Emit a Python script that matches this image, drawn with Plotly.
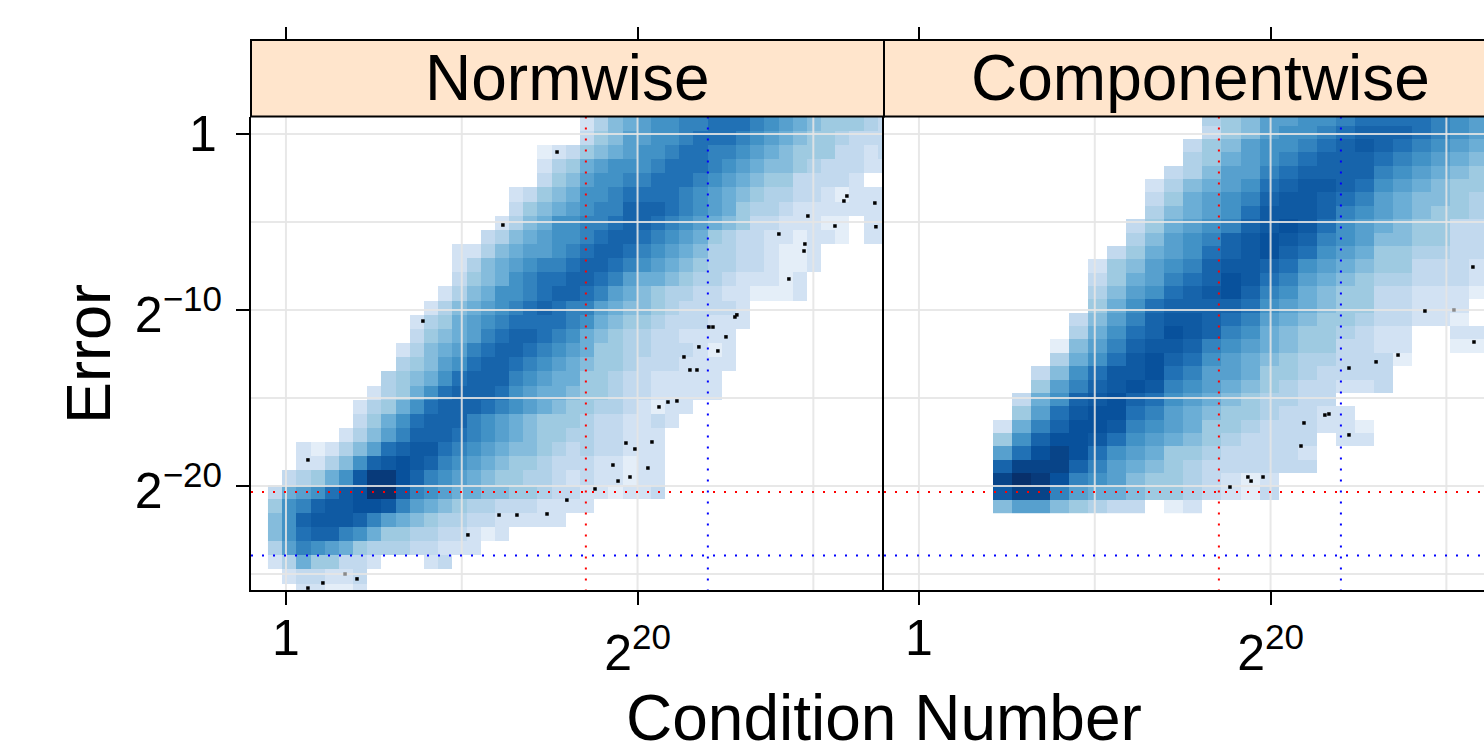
import plotly.graph_objects as go

W, H = 1484, 745
PANEL_TITLES = ["Normwise", "Componentwise"]
X_TICKS = [0, 20]
X_TICK_TEXT = ["", "2<sup>20</sup>"]
Y_TICKS = [0, -10, -20]
Y_TICK_TEXT = ["", "2<sup>\u221210</sup>", "2<sup>\u221220</sup>"]
UNIT_LABEL = "1"
X_GRID = [0, 10, 20, 30]
Y_GRID = [0, -5, -10, -15, -20, -25]
RED_X, BLUE_X = 17.06, 24.0
RED_Y, BLUE_Y = -20.34, -23.95

# shade levels: '.' empty, then 1..9, a..h from light to dark
SHADES = ["#E4EEF8", "#D2E2F3", "#C2D9EE", "#B0D1E8", "#9ECAE1", "#85BCDC", "#6BAED6", "#57A0CE", "#4292C6",
          "#3383BE", "#2171B5", "#1764AB", "#0F5AA3", "#08519C", "#084488", "#083A7A", "#08306B"]
LEVELS = "123456789abcdefgh"

# bins of each panel, in log2 units
NORM_X0, NORM_DX, NORM_Y0, NORM_DY = -1.024, 0.8066, 0.977, 0.8045
COMP_X0, COMP_DX, COMP_Y0, COMP_DY = 4.21, 1.0836, 1.233, 0.759

norm_rows = [
    "......................2467899aabbba987655543",
    "......................3568899abbba9876554333",
    "...................123567899abbaa98765553323",
    "...................245789" + "99abbba98766543332" + "2",
    "...................356899aabbba98765533332",
    ".................2356799abbbba98765443321222",
    ".................356789aacccba98754432222222",
    "................246799aabccba987653322211.22",
    "...............3467899abccba9875433221221.22",
    ".............22467889abccba987644332112",
    ".............246789aabccba9876544332112",
    ".............35679abbccba8776544322212",
    "............246799abccba87654433221112",
    "...........246789abcbaa87665433332",
    "..........245789abbbba976554333222",
    "..........35678abccba976544332222",
    ".........24678abccba9875544333212",
    ".........45689bccba98765543332222",
    "........45679bccca98775543322222",
    ".......24579bcccb987765543322222",
    "......24579bcccba9876554432122",
    "......3579bccca98765554332232",
    ".....2468acccba9876554433222",
    "..212468bcddba98766543433222",
    "..22469cdedca987655433322122",
    ".34579dggeca98765544323221" + "22",
    "3789bdehhda987766554332212" + "23",
    "59acddeeda876544333" + "2222",
    "69cdddca87654433" + "22222",
    "69bcca97554433212",
    "48a987544433222",
    "24755332...23",
    ".233223",
    "..22112",
]

comp_rows = [
    "...........4568899abbbba98",
    "...........356899abcccba98",
    "..........356899abcdcba987",
    "..........45789abcccba9876",
    ".........34688abcccca98765",
    "........246789bcddcb987655",
    "........35789acddcba876654",
    "........46789bdddca9876554",
    ".......35789acdedb98765533",
    ".......4689acdedca98665533",
    "......35789bcdecb987554433",
    ".....25689acddcb9876553332",
    ".....3578abcedba8765443332",
    ".....4689bcdeca97655332221",
    ".....579bccccb98765533222.",
    "....368acddcba87655433221.",
    "....479bcedca976554322..22",
    "...168acddca9876553322..11",
    "...479bdecb98765443331....",
    "..369bddeba8875543333.....",
    "..58acdeda98765433223.....",
    ".379cdecb987654433........",
    ".58bdeeba8765543322.......",
    "27aceeda987554333221......",
    "59ceedb9876543333.22......",
    "8befeb98755433332.........",
    "cfffca87654333333.........",
    "fhgea9865543212...........",
    "dffa87765543213...........",
    "68865433.12...............",
]

# isolated observations, log2 of condition number and log2 of error
norm_pts_x = [15.42, 12.34, 7.79, 1.25, 4.04, 2.10, 1.25, 15.98, 12.12, 13.14, 14.85, 10.35, 31.91, 31.74, 33.50,
              29.69, 31.23, 33.56, 28.04, 29.52, 29.47, 28.61, 25.65, 25.54, 24.06, 24.29, 25.03, 23.49, 24.57,
              22.64, 22.98, 23.38, 22.24, 21.73, 21.22, 20.82, 19.34, 19.85, 18.60, 20.59, 19.57, 18.89, 17.58]
norm_pts_y = [-1.02, -5.17, -10.63, -18.52, -25.28, -25.51, -25.80, -20.80, -21.65, -21.65, -21.59, -22.78, -3.52,
              -3.81, -3.92, -4.66, -5.23, -5.28, -5.68, -6.25, -6.65, -8.24, -10.28, -10.40, -10.97, -10.97, -11.53,
              -12.10, -12.33, -12.67, -13.41, -13.41, -15.17, -15.23, -15.51, -17.50, -17.56, -17.90, -18.81, -18.98,
              -19.49, -19.72, -20.17]
norm_faint_x = [3.36]
norm_faint_y = [-25.0]
comp_pts_x = [31.51, 28.78, 31.57, 27.25, 26.0, 24.46, 23.32, 23.09, 21.90, 24.46, 21.73, 18.71, 19.57, 18.89, 17.69]
comp_pts_y = [-7.56, -10.06, -11.82, -12.56, -12.95, -13.30, -15.91, -15.97, -16.42, -17.10, -17.73, -19.49, -19.49,
              -19.72, -20.06]
comp_faint_x = [30.43]
comp_faint_y = [-10.0]

X_RANGE_1 = [-1.99, 34.02]
X_RANGE_2 = [-1.99, 32.14]
Y_RANGE = [-25.91, 0.99]


def matrix(rows, ncols):
    out = []
    for row in reversed(rows):
        row = row.ljust(ncols, ".")[:ncols]
        out.append([None if c == "." else LEVELS.index(c) for c in row])
    return out


def edges(start, step, n):
    return [start + step * i for i in range(n + 1)]


colorscale = [[i / (len(SHADES) - 1), c] for i, c in enumerate(SHADES)]
fig = go.Figure()

panels = [
    (norm_rows, 44, NORM_X0, NORM_DX, NORM_Y0, NORM_DY, "x", "y", X_RANGE_1, norm_pts_x, norm_pts_y, norm_faint_x, norm_faint_y),
    (comp_rows, 26, COMP_X0, COMP_DX, COMP_Y0, COMP_DY, "x2", "y2", X_RANGE_2, comp_pts_x, comp_pts_y, comp_faint_x, comp_faint_y),
]
for rows, ncols, x0, dx, y0, dy, xa, ya, xr, px, py, fx, fy in panels:
    n = len(rows)
    fig.add_trace(go.Heatmap(
        z=matrix(rows, ncols), x=edges(x0, dx, ncols),
        y=edges(y0 - dy * n, dy, n), xaxis=xa, yaxis=ya,
        colorscale=colorscale, zmin=0, zmax=len(SHADES) - 1, showscale=False, hoverinfo="skip",
    ))
    grid = dict(mode="lines", xaxis=xa, yaxis=ya, hoverinfo="skip", showlegend=False,
                line=dict(color="rgba(229,229,229,0.88)", width=2))
    for gx in X_GRID:
        fig.add_trace(go.Scatter(x=[gx, gx], y=Y_RANGE, **grid))
    for gy in Y_GRID:
        fig.add_trace(go.Scatter(x=xr, y=[gy, gy], **grid))
    for color, vx, hy in (("#FF0000", RED_X, RED_Y), ("#0000FF", BLUE_X, BLUE_Y)):
        dots = dict(mode="lines", xaxis=xa, yaxis=ya, hoverinfo="skip", showlegend=False,
                    line=dict(color=color, width=2, dash="2px,9px"))
        fig.add_trace(go.Scatter(x=[vx, vx], y=[Y_RANGE[1], Y_RANGE[0]], **dots))
        fig.add_trace(go.Scatter(x=xr, y=[hy, hy], **dots))
    fig.add_trace(go.Scatter(x=px, y=py, mode="markers", xaxis=xa, yaxis=ya, hoverinfo="skip", showlegend=False,
                             marker=dict(symbol="square", size=3.5, color="black", line=dict(width=0))))
    fig.add_trace(go.Scatter(x=fx, y=fy, mode="markers", xaxis=xa, yaxis=ya, hoverinfo="skip", showlegend=False,
                             marker=dict(symbol="square", size=3.5, color="#8A8A8A", line=dict(width=0))))

# carriers of the top tick axes, which sit above the strips
fig.add_trace(go.Scatter(x=[0], y=[0], xaxis="x3", yaxis="y", mode="markers", opacity=0, hoverinfo="skip", showlegend=False))
fig.add_trace(go.Scatter(x=[0], y=[0], xaxis="x4", yaxis="y2", mode="markers", opacity=0, hoverinfo="skip", showlegend=False))

FONT = "Liberation Sans, Arial, sans-serif"
PL, PM, PR = 251 / W, 884 / W, 1.0
PB, PT = 1 - 590 / H, 1 - 116.5 / H
STRIP_T = 1 - 40 / H

xcommon = dict(tickmode="array", tickvals=X_TICKS, ticktext=X_TICK_TEXT, showgrid=False, zeroline=False,
               ticks="outside", ticklen=13, tickwidth=2, tickcolor="black", showline=True, linecolor="black",
               linewidth=2, tickfont=dict(family=FONT, size=50, color="black"), ticklabelstandoff=5)
topcommon = dict(tickmode="array", tickvals=X_TICKS, showticklabels=False, showgrid=False, zeroline=False,
                 ticks="outside", ticklen=13, tickwidth=2, tickcolor="black", showline=False,
                 side="top", anchor="free", position=STRIP_T)
ycommon = dict(range=Y_RANGE, showgrid=False, zeroline=False, showline=True, linecolor="black", linewidth=2)
text_font = dict(family=FONT, size=50, color="black")

fig.update_layout(
    width=W, height=H, autosize=False, margin=dict(l=0, r=0, t=0, b=0, autoexpand=False),
    paper_bgcolor="white", plot_bgcolor="white", showlegend=False,
    xaxis=dict(domain=[PL, PM], range=X_RANGE_1, anchor="y", **xcommon),
    xaxis2=dict(domain=[PM, PR], range=X_RANGE_2, anchor="y2", **xcommon),
    xaxis3=dict(domain=[PL, PM], range=X_RANGE_1, overlaying="x", **topcommon),
    xaxis4=dict(domain=[PM, PR], range=X_RANGE_2, overlaying="x2", **topcommon),
    yaxis=dict(domain=[PB, PT], anchor="x", tickmode="array", tickvals=Y_TICKS, ticktext=Y_TICK_TEXT,
               ticks="outside", ticklen=13, tickwidth=2, tickcolor="black", ticklabelstandoff=4, ticklabelshift=5,
               tickfont=dict(family=FONT, size=50, color="black"), **ycommon),
    yaxis2=dict(domain=[PB, PT], anchor="x2", showticklabels=False, ticks="", **ycommon),
    shapes=[
        dict(type="rect", xref="paper", yref="paper", x0=PL, x1=PM, y0=PT, y1=STRIP_T,
             fillcolor="#FFE5CC", line=dict(color="black", width=2)),
        dict(type="rect", xref="paper", yref="paper", x0=PM, x1=1517 / W, y0=PT, y1=STRIP_T,
             fillcolor="#FFE5CC", line=dict(color="black", width=2)),
    ],
    annotations=[
        dict(text=PANEL_TITLES[0], xref="paper", yref="paper", x=566.5 / W, y=(PT + STRIP_T) / 2,
             showarrow=False, xanchor="center", yanchor="middle", font=dict(family=FONT, size=64, color="black")),
        dict(text=PANEL_TITLES[1], xref="paper", yref="paper", x=1200 / W, y=(PT + STRIP_T) / 2,
             showarrow=False, xanchor="center", yanchor="middle", font=dict(family=FONT, size=64, color="black")),
        dict(text="Condition Number", xref="paper", yref="paper", x=884 / W, y=1 - 718 / H,
             showarrow=False, xanchor="center", yanchor="middle", font=dict(family=FONT, size=64, color="black")),
        dict(text="Error", xref="paper", yref="paper", x=88 / W, y=1 - 354 / H, textangle=-90,
             showarrow=False, xanchor="center", yanchor="middle", font=dict(family=FONT, size=63, color="black")),
        dict(text=UNIT_LABEL, xref="x", yref="paper", x=X_TICKS[0], y=1 - 638 / H,
             showarrow=False, xanchor="center", yanchor="middle", font=text_font),
        dict(text=UNIT_LABEL, xref="x2", yref="paper", x=X_TICKS[0], y=1 - 638 / H,
             showarrow=False, xanchor="center", yanchor="middle", font=text_font),
        dict(text=UNIT_LABEL, xref="paper", yref="y", x=219 / W, y=Y_TICKS[0],
             showarrow=False, xanchor="right", yanchor="middle", font=text_font),
    ],
)

fig.write_html("out.html", config=dict(displayModeBar=False), post_script="document.body.style.margin='0';")
